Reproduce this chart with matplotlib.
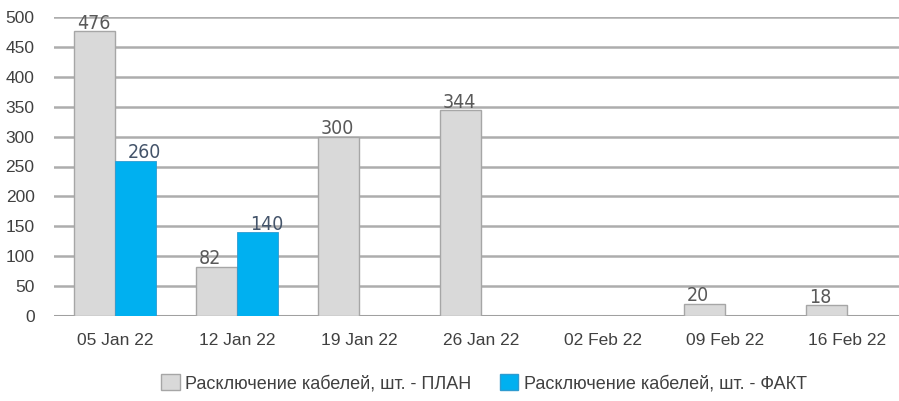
import matplotlib.pyplot as plt
from matplotlib.patches import Patch
import numpy as np

# chart data
categories = ['05 Jan 22', '12 Jan 22', '19 Jan 22', '26 Jan 22', '02 Feb 22', '09 Feb 22', '16 Feb 22']
plan = [476, 82, 300, 344, 0, 20, 18]
fact = [260, 140, 0, 0, 0, 0, 0]
plan_label = 'Расключение кабелей, шт. - ПЛАН'
fact_label = 'Расключение кабелей, шт. - ФАКТ'
yticks = [0, 50, 100, 150, 200, 250, 300, 350, 400, 450, 500]

plt.rcParams['font.family'] = ['Liberation Sans', 'DejaVu Sans']

fig = plt.figure(figsize=(8.99, 4.01), dpi=100)
ax = fig.add_axes([54 / 899, 85 / 401, 845 / 899, 299 / 401])

x = np.arange(len(categories))
w = 0.336
gray = '#d9d9d9'
blue = '#00b0f0'

ax.bar(x - w / 2, plan, w, color=gray, edgecolor='#a6a6a6', linewidth=1, zorder=3)
fact_x = [xi for xi, v in zip(x, fact) if v > 0]
fact_v = [v for v in fact if v > 0]
ax.bar(np.array(fact_x) + w / 2, fact_v, w, color=blue, edgecolor='#2e9bd0', linewidth=0.6, zorder=3)

for xi, v in zip(x, plan):
    if v > 0:
        ax.annotate(str(v), (xi - w, v), xytext=(2, -1), textcoords='offset points',
                    ha='left', va='bottom', fontsize=14, color='#595959',
                    family='DejaVu Sans', fontstretch='condensed', zorder=4)
for xi, v in zip(fact_x, fact_v):
    ax.annotate(str(v), (xi + w, v), xytext=(4, -1), textcoords='offset points',
                ha='right', va='bottom', fontsize=14, color='#44546a',
                family='DejaVu Sans', fontstretch='condensed', zorder=4)

ax.set_xlim(-0.5, -0.5 + 845 / 122)
ax.set_ylim(0, 500)
ax.set_yticks(yticks)
ax.set_xticks(x)
ax.set_xticklabels(categories)
ax.tick_params(axis='both', length=0, labelsize=12.5, labelcolor='#404040')
ax.tick_params(axis='x', pad=12)
ax.tick_params(axis='y', pad=14)
ax.yaxis.grid(True, color='#adadad', linewidth=1.8, zorder=0)
ax.set_axisbelow(True)
for s in ax.spines.values():
    s.set_visible(False)
ax.axhline(0, color='#a0a0a0', linewidth=2.2, zorder=2)

handles = [Patch(facecolor=gray, edgecolor='#a6a6a6', label=plan_label),
           Patch(facecolor=blue, edgecolor='#2e9bd0', label=fact_label)]
fig.legend(handles=handles, loc='center', bbox_to_anchor=(484 / 899, 1 - 383 / 401), ncol=2,
           frameon=False, fontsize=13, handlelength=1.0, handleheight=1.0, handletextpad=0.3,
           columnspacing=1.6, labelcolor='#404040')

fig.savefig('out.png', dpi=100)
